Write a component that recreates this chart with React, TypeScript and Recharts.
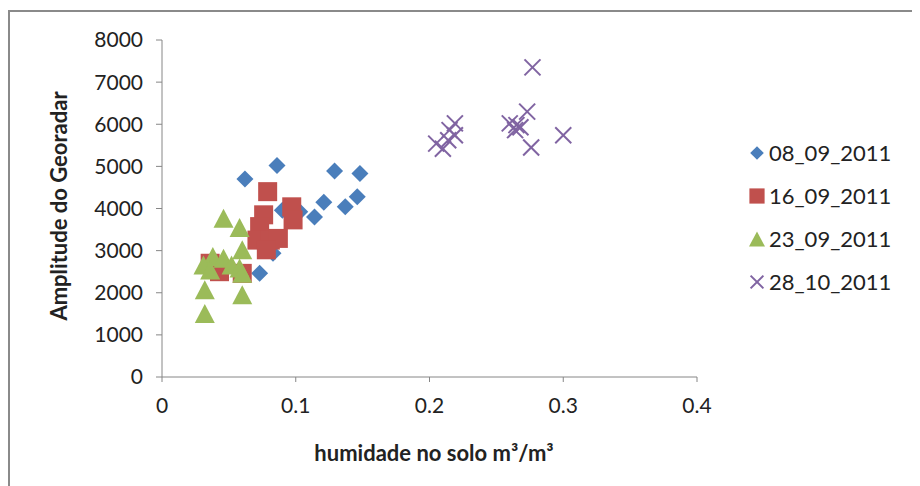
import { ScatterChart, Scatter, XAxis, YAxis, Legend } from 'recharts';

// values (x: soil moisture m3/m3, y: GPR amplitude)
const s0809 = [
  { x: 0.062, y: 4700 }, { x: 0.086, y: 5020 }, { x: 0.129, y: 4890 },
  { x: 0.148, y: 4830 }, { x: 0.121, y: 4150 }, { x: 0.137, y: 4040 },
  { x: 0.146, y: 4280 }, { x: 0.114, y: 3800 }, { x: 0.090, y: 3960 },
  { x: 0.103, y: 3920 }, { x: 0.073, y: 2460 }, { x: 0.083, y: 2940 },
];
const s1609 = [
  { x: 0.079, y: 4400 }, { x: 0.097, y: 4040 }, { x: 0.098, y: 3730 },
  { x: 0.076, y: 3850 }, { x: 0.073, y: 3570 }, { x: 0.071, y: 3250 },
  { x: 0.081, y: 3250 }, { x: 0.087, y: 3290 }, { x: 0.078, y: 3020 },
  { x: 0.060, y: 2460 }, { x: 0.036, y: 2700 }, { x: 0.043, y: 2500 },
];
const s2309 = [
  { x: 0.046, y: 3770 }, { x: 0.058, y: 3550 }, { x: 0.060, y: 3020 },
  { x: 0.038, y: 2860 }, { x: 0.046, y: 2820 }, { x: 0.031, y: 2660 },
  { x: 0.036, y: 2540 }, { x: 0.052, y: 2660 }, { x: 0.058, y: 2590 },
  { x: 0.060, y: 2460 }, { x: 0.032, y: 2070 }, { x: 0.060, y: 1950 },
  { x: 0.032, y: 1510 },
];
const s2810 = [
  { x: 0.277, y: 7350 }, { x: 0.273, y: 6300 }, { x: 0.260, y: 6020 },
  { x: 0.265, y: 5980 }, { x: 0.264, y: 5860 }, { x: 0.268, y: 5930 },
  { x: 0.276, y: 5450 }, { x: 0.300, y: 5740 }, { x: 0.219, y: 6020 },
  { x: 0.215, y: 5860 }, { x: 0.219, y: 5740 }, { x: 0.205, y: 5540 },
  { x: 0.210, y: 5420 }, { x: 0.214, y: 5620 },
];

const seriesNames = ['08_09_2011', '16_09_2011', '23_09_2011', '28_10_2011'];
const seriesColors = ['#4a7ebb', '#c0504d', '#9bbb59', '#8064a2'];
const xTicks = [0, 0.1, 0.2, 0.3, 0.4];
const yTicks = [0, 1000, 2000, 3000, 4000, 5000, 6000, 7000, 8000];

const FONT = 'Lato, "Open Sans", sans-serif';

function Marker({ kind, cx, cy, scale = 1 }: { kind: number; cx: number; cy: number; scale?: number }) {
  const c = seriesColors[kind];
  if (kind === 0) {
    const r = 8.5 * scale;
    return <polygon points={`${cx},${cy - r} ${cx + r},${cy} ${cx},${cy + r} ${cx - r},${cy}`} fill={c} />;
  }
  if (kind === 1) {
    const h = 9.5 * scale;
    return <rect x={cx - h} y={cy - h} width={h * 2} height={h * 2} fill={c} />;
  }
  if (kind === 2) {
    const w = 10 * scale;
    const ht = 19 * scale;
    return <polygon points={`${cx},${cy - ht / 2} ${cx + w},${cy + ht / 2} ${cx - w},${cy + ht / 2}`} fill={c} />;
  }
  const d = 8 * scale;
  return (
    <g stroke={c} strokeWidth={2}>
      <line x1={cx - d} y1={cy - d} x2={cx + d} y2={cy + d} />
      <line x1={cx - d} y1={cy + d} x2={cx + d} y2={cy - d} />
    </g>
  );
}

const shapeFor = (kind: number) => (props: any) => <Marker kind={kind} cx={props.cx} cy={props.cy} />;

function LegendBox() {
  return (
    <div style={{ fontFamily: FONT, fontSize: 22, color: '#222' }}>
      {seriesNames.map((n, i) => (
        <div key={n} style={{ display: 'flex', alignItems: 'center', height: 43 }}>
          <svg width={18} height={18} style={{ marginRight: 3 }}>
            <Marker kind={i} cx={9} cy={9} scale={0.8} />
          </svg>
          <span>{n}</span>
        </div>
      ))}
    </div>
  );
}

export default function App() {
  const tickStyle = { fill: '#222', fontSize: 21, fontFamily: FONT };
  return (
    <div
      style={{
        position: 'relative',
        marginTop: 2,
        width: 906,
        height: 476,
        borderTop: '2px solid #8a8a8a',
        borderLeft: '2px solid #8a8a8a',
        borderRight: '1px solid #dddddd',
        background: '#fff',
      }}
    >
      <ScatterChart width={905} height={476} margin={{ top: 28, right: 218, bottom: 0, left: 0 }}>
        <XAxis
          type="number"
          dataKey="x"
          domain={[0, 0.4]}
          ticks={xTicks}
          tickFormatter={(v: number) => (v === 0 ? '0' : String(v))}
          stroke="#868686"
          tick={tickStyle}
          tickSize={5}
          tickMargin={16}
          height={111}
        />
        <YAxis
          type="number"
          dataKey="y"
          domain={[0, 8000]}
          ticks={yTicks}
          stroke="#868686"
          tick={tickStyle}
          tickSize={6}
          tickMargin={13}
          width={152}
        />
        <Legend
          layout="vertical"
          align="center"
          verticalAlign="middle"
          wrapperStyle={{ position: 'absolute', left: 738, top: 119, width: 170 }}
          content={() => <LegendBox />}
        />
        <Scatter name={seriesNames[0]} data={s0809} fill={seriesColors[0]} shape={shapeFor(0)} isAnimationActive={false} />
        <Scatter name={seriesNames[1]} data={s1609} fill={seriesColors[1]} shape={shapeFor(1)} isAnimationActive={false} />
        <Scatter name={seriesNames[2]} data={s2309} fill={seriesColors[2]} shape={shapeFor(2)} isAnimationActive={false} />
        <Scatter name={seriesNames[3]} data={s2810} fill={seriesColors[3]} shape={shapeFor(3)} isAnimationActive={false} />
      </ScatterChart>
      <div
        style={{
          position: 'absolute',
          left: 48,
          top: 194,
          transform: 'translate(-50%, -50%) rotate(-90deg)',
          whiteSpace: 'nowrap',
          fontFamily: FONT,
          fontWeight: 700,
          fontSize: 22,
          color: '#222',
        }}
      >
        Amplitude do Georadar
      </div>
      <div
        style={{
          position: 'absolute',
          left: 424,
          top: 440,
          transform: 'translate(-50%, -50%)',
          whiteSpace: 'nowrap',
          fontFamily: FONT,
          fontWeight: 700,
          fontSize: 22,
          color: '#222',
        }}
      >
        humidade no solo m³/m³
      </div>
    </div>
  );
}
